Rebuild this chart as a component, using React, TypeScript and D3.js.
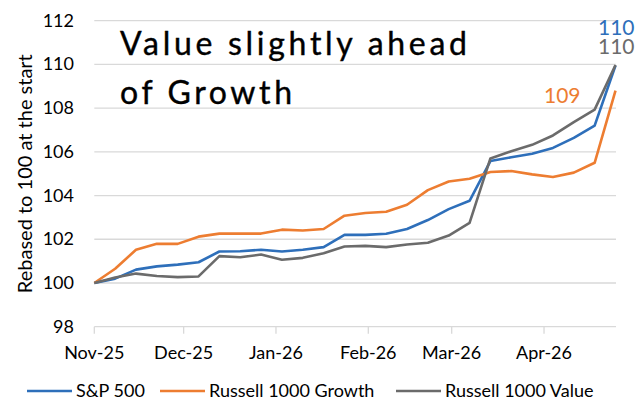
import React from "react";
import * as d3 from 'd3';

// weekly observations (rebased to 100)
const dates = [
    '2025-11-01', '2025-11-08', '2025-11-15', '2025-11-22', '2025-11-29',
    '2025-12-06', '2025-12-13', '2025-12-20', '2025-12-27', '2026-01-03',
    '2026-01-10', '2026-01-17', '2026-01-24', '2026-01-31', '2026-02-07',
    '2026-02-14', '2026-02-21', '2026-02-28', '2026-03-07', '2026-03-14',
    '2026-03-21', '2026-03-28', '2026-04-04', '2026-04-11', '2026-04-18',
    '2026-04-25'
];
const sp500 = [100, 100.2, 100.61, 100.76, 100.84, 100.95, 101.44, 101.45, 101.52, 101.44, 101.52, 101.64, 102.2,
    102.2, 102.25, 102.47, 102.88, 103.38, 103.76, 105.58, 105.75, 105.91, 106.18, 106.64, 107.2, 109.95];
const growth = [100, 100.65, 101.52, 101.79, 101.79, 102.12, 102.26, 102.26, 102.26, 102.44, 102.4, 102.47, 103.08,
    103.2, 103.26, 103.58, 104.25, 104.64, 104.77, 105.08, 105.12, 104.97, 104.85, 105.05, 105.5, 108.8];
const value = [100, 100.25, 100.43, 100.32, 100.27, 100.3, 101.23, 101.18, 101.3, 101.06, 101.15, 101.36, 101.67,
    101.7, 101.64, 101.76, 101.84, 102.17, 102.75, 105.7, 106.03, 106.32, 106.75, 107.36, 107.93, 109.97];

const seriesNames = ['S&P 500', 'Russell 1000 Growth', 'Russell 1000 Value'];
const seriesColors = ['#2e6fba', '#ed7d31', '#6b6b6b'];
const endLabels = ['110', '109', '110'];
const yTicks = [98, 100, 102, 104, 106, 108, 110, 112];

const FONT = 'Lato, "Open Sans", sans-serif';

const App = () => {
    const width = 644, height = 406;
    const parse = d3.timeParse('%Y-%m-%d');
    const xDates = dates.map(d => parse(d) as Date);

    const x = d3.scaleTime()
        .domain([xDates[0], xDates[xDates.length - 1]])
        .range([94.3, 615.5]);
    const y = d3.scaleLinear().domain([98, 112]).range([326.7, 20.7]);

    const allSeries = [sp500, growth, value];
    const line = d3.line<number>()
        .x((_, i) => x(xDates[i]))
        .y(d => y(d));

    const monthTicks = d3.timeMonth.range(d3.timeMonth.ceil(xDates[0]), xDates[xDates.length - 1]);
    const fmt = d3.timeFormat('%b-%y');

    const xEnd = x(xDates[xDates.length - 1]);
    // end labels: blue and grey stacked above the end point, orange to the left
    const labelPos = [
        { x: xEnd + 19, y: y(sp500[25]) - 31 },
        { x: xEnd - 35, y: y(growth[25]) + 12 },
        { x: xEnd + 19, y: y(value[25]) - 11 },
    ];

    // legend layout
    const legendItems = [
        { lx: 27, tx: 76 },
        { lx: 160, tx: 209 },
        { lx: 396, tx: 445 },
    ];

    return <svg width={width} height={height} style={{ position: 'absolute', left: 0, top: 0, background: '#fff' }}>
        {/* 網格線 */}
        {yTicks.map(t => (
            <line key={t} x1={x.range()[0]} x2={616} y1={y(t)} y2={y(t)}
                stroke="#d9d9d9" strokeWidth={1.3} />
        ))}
        {/* x 軸刻度 */}
        {monthTicks.map((m, i) => (
            <g key={i}>
                <line x1={x(m)} x2={x(m)} y1={y(98)} y2={y(98) + 7} stroke="#d9d9d9" strokeWidth={1.3} />
                <text x={x(m)} y={359} textAnchor="middle" fontFamily={FONT} fontSize={18} fill="#000">{fmt(m)}</text>
            </g>
        ))}
        {/* y 軸標籤 */}
        {yTicks.map(t => (
            <text key={t} x={74} y={y(t) + 6} textAnchor="end" fontFamily={FONT} fontSize={18} fill="#000">{t}</text>
        ))}
        <text transform={`translate(32, ${(y(98) + y(112)) / 2}) rotate(-90)`} textAnchor="middle"
            fontFamily={FONT} fontSize={20} fill="#000">Rebased to 100 at the start</text>

        {/* 三條線 */}
        {allSeries.map((s, i) => (
            <path key={i} d={line(s) || ''} fill="none" stroke={seriesColors[i]} strokeWidth={2.6}
                strokeLinejoin="round" />
        ))}

        {endLabels.map((l, i) => (
            <text key={i} x={labelPos[i].x} y={labelPos[i].y} textAnchor="end"
                fontFamily={FONT} fontSize={21} fill={seriesColors[i]}>{l}</text>
        ))}

        {/* 標題 */}
        <text x={120} y={55} fontFamily={FONT} fontSize={32} fill="#000" stroke="#000" strokeWidth={0.4}
            textLength={347} lengthAdjust="spacing">Value slightly ahead</text>
        <text x={120} y={104} fontFamily={FONT} fontSize={32} fill="#000" stroke="#000" strokeWidth={0.4}
            textLength={172} lengthAdjust="spacing">of Growth</text>

        {/* 圖例 */}
        {seriesNames.map((n, i) => (
            <g key={n}>
                <line x1={legendItems[i].lx} x2={legendItems[i].lx + 45} y1={391} y2={391}
                    stroke={seriesColors[i]} strokeWidth={2.6} />
                <text x={legendItems[i].tx} y={397} fontFamily={FONT} fontSize={18} fill="#000">{n}</text>
            </g>
        ))}
    </svg>
}

export default App
